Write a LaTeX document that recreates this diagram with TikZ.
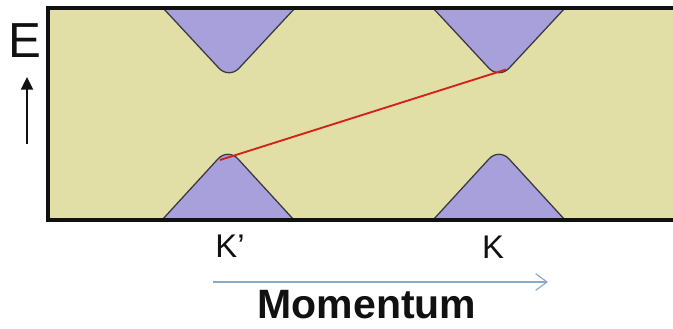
\documentclass[tikz,border=0pt]{standalone}
\usepackage{fontspec}
\setmainfont{Liberation Sans}
\setsansfont{Liberation Sans}
\usetikzlibrary{arrows.meta}
\definecolor{ink}{HTML}{111111}
\definecolor{band}{HTML}{E2DFA6}
\definecolor{cone}{HTML}{A7A0DA}
\definecolor{conel}{HTML}{3A3A44}
\definecolor{jump}{HTML}{D2221A}
\definecolor{kaxis}{HTML}{8DA8C3}
\def\T{8}
\def\B{220}
\tikzset{
  conebody/.style={fill=cone,draw=conel,line width=1.1pt,rounded corners=4.4mm},
  frameline/.style={ink,line width=2.6pt},
  klabel/.style={ink,anchor=base,font=\fontsize{28}{28}\selectfont},
}
% cone hanging from the top edge, tip at #1,#2
\newcommand{\conedown}[2]{%
  \filldraw[conebody] (#1-66,\T) -- (#1,#2) -- (#1+66,\T);}
% cone standing on the bottom edge, tip at #1,#2
\newcommand{\coneup}[2]{%
  \filldraw[conebody] (#1-66,\B) -- (#1,#2) -- (#1+66,\B);}

\begin{document}
\begin{tikzpicture}[x=0.03cm,y=-0.03cm,font=\sffamily]
\useasboundingbox (0,0) rectangle (673,328);

% ---------------------------------------------------------------- band
\fill[band] (48,\T) rectangle (676,\B);
\conedown{229}{79}
\conedown{499}{79}
\coneup{228}{148}
\coneup{499}{148}
\draw[frameline] (676,\T) -- (48,\T) -- (48,\B) -- (676,\B);

% ---------------------------------------------------------------- transition K' -> K
\coordinate (kpv) at (220,160);
\coordinate (kc) at (506,69.5);
\draw[jump,line width=1.6pt] (kpv) -- (kc);

% ---------------------------------------------------------------- energy axis
\node[ink,anchor=base,font=\fontsize{42}{42}\selectfont] (e) at (25,57) {E};
\coordinate (e0) at (27,144);
\coordinate (e1) at (27,77);
\draw[ink,line width=1.4pt,-{Triangle[length=3.8mm,width=3.6mm]}] (e0) -- (e1);

% ---------------------------------------------------------------- momentum axis
\node[klabel] (kp) at (230,257) {K’};
\node[klabel] (k) at (493,258) {K};
\coordinate (m0) at (213,282);
\coordinate (m1) at (548,282);
\draw[kaxis,line width=1pt,-{Straight Barb[length=3.4mm,width=5mm]}] (m0) -- (m1);
\node[ink,anchor=base,inner sep=0pt,font=\fontsize{35}{35}\selectfont\bfseries] (mom) at (367,318) {Momentum};

\end{tikzpicture}
\end{document}
